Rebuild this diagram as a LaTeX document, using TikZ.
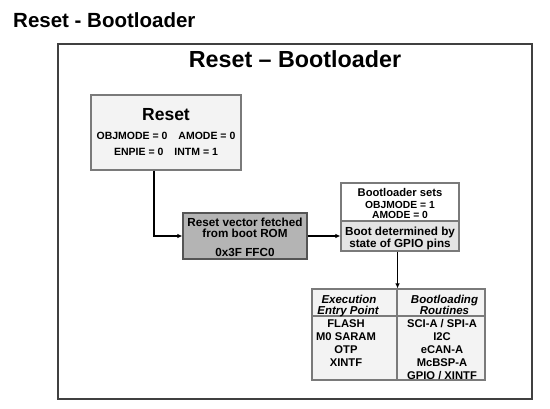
\documentclass[tikz,border=0pt]{standalone}
\usepackage{fontspec}
\setmainfont{Liberation Sans}
\usetikzlibrary{arrows.meta,calc}
\definecolor{Frame}{HTML}{404040}
\definecolor{Edge}{HTML}{7A7A7A}
\definecolor{DarkEdge}{HTML}{555555}
\definecolor{PaleFill}{HTML}{F3F3F3}
\definecolor{MidFill}{HTML}{B4B4B4}
\definecolor{SoftFill}{HTML}{E4E4E4}
\newcommand{\fsz}[2]{\fontsize{#1}{#2}\selectfont}

\begin{document}
\begin{tikzpicture}[x=1pt,y=-1pt,every node/.style={font=\bfseries,text=black,inner sep=0pt},
  box/.style={draw=Edge,line width=1.1pt},
  link/.style={draw=black,line width=1.6pt,-{Latex[length=5pt,width=4.5pt]}}]
\useasboundingbox (0,0) rectangle (550,408);
\fill[white] (0,0) rectangle (550,408);
\node[anchor=base west,font=\bfseries\fsz{20.5}{24}] (pagetitle) at (13,27.7) {Reset - Bootloader};
\draw[Frame,line width=1.2pt,fill=white] (58,44) rectangle (532,399);
\node[anchor=base,font=\bfseries\fsz{23.3}{27}] (frametitle) at (295,67.3) {Reset – Bootloader};
% reset state
\node[box,fill=PaleFill,minimum width=150,minimum height=75] (reset) at (166,132.5) {};
\node[anchor=base,font=\bfseries\fsz{17.5}{20}] (resettitle) at (166,120.7) {Reset};
\node[anchor=base,font=\bfseries\fsz{10.5}{12}] (resetmodes) at (166,139.5) {OBJMODE = 0\hspace{11pt}AMODE = 0};
\node[anchor=base,font=\bfseries\fsz{10.5}{12}] (resetints) at (166,155) {ENPIE = 0\hspace{11pt}INTM = 1};
% vector fetch
\node[box,draw=DarkEdge,fill=MidFill,minimum width=124,minimum height=46] (vector) at (245,236) {};
\node[anchor=base,font=\bfseries\fsz{11.7}{14}] (vectorl1) at (245,226.7) {Reset vector fetched};
\node[anchor=base,font=\bfseries\fsz{11.7}{14}] (vectorl2) at (245,237.7) {from boot ROM};
\node[anchor=base,font=\bfseries\fsz{11.7}{14}] (vectoraddr) at (245,256.7) {0x3F FFC0};
% bootloader
\node[box,fill=white,minimum width=118,minimum height=38] (bootup) at (400,202) {};
\node[box,fill=SoftFill,minimum width=118,minimum height=30] (bootlow) at (400,236) {};
\node[anchor=base,font=\bfseries\fsz{11.2}{14}] (bootsets) at (400,196.7) {Bootloader sets};
\node[anchor=base,font=\bfseries\fsz{10.3}{12}] (bootobj) at (400,208.3) {OBJMODE = 1};
\node[anchor=base,font=\bfseries\fsz{10.3}{12}] (bootamode) at (400,218.3) {AMODE = 0};
\node[anchor=base,font=\bfseries\fsz{11.7}{14}] (bootgpio1) at (400,235.7) {Boot determined by};
\node[anchor=base,font=\bfseries\fsz{11.7}{14}] (bootgpio2) at (400,247) {state of GPIO pins};
% table of boot modes
\node[box,fill=PaleFill,minimum width=85,minimum height=27] (exechead) at (354.5,302.5) {};
\node[box,fill=PaleFill,minimum width=88,minimum height=27] (routhead) at (441,302.5) {};
\node[box,fill=PaleFill,minimum width=85,minimum height=64] (execbody) at (354.5,348) {};
\node[box,fill=PaleFill,minimum width=88,minimum height=64] (routbody) at (441,348) {};
\node[anchor=base,font=\bfseries\itshape\fsz{11.5}{13}] (exect1) at (349,303.3) {Execution};
\node[anchor=base,font=\bfseries\itshape\fsz{11.5}{13}] (exect2) at (348,314.3) {Entry Point};
\node[anchor=base,font=\bfseries\itshape\fsz{11.5}{13}] (rout1) at (444.5,303.3) {Bootloading};
\node[anchor=base,font=\bfseries\itshape\fsz{11.5}{13}] (rout2) at (444.5,314.3) {Routines};
\foreach \entry [count=\i] in {FLASH,M0 SARAM,OTP,XINTF}
  \node[anchor=base,font=\bfseries\fsz{11.2}{13}] (exec\i) at (346,314.3+13*\i) {\entry};
\foreach \entry [count=\i] in {SCI-A / SPI-A,I2C,eCAN-A,McBSP-A,GPIO / XINTF}
  \node[anchor=base,font=\bfseries\fsz{11.2}{13}] (rout\i) at (442,314.3+13*\i) {\entry};
% connectors
\draw[link] ($(reset.south west)!.42!(reset.south east)$) |- (vector.west);
\draw[link] (vector.east) -- (bootlow.west);
\draw[link] (bootlow.south -| exechead.north east) -- (exechead.north east);
\end{tikzpicture}
\end{document}
